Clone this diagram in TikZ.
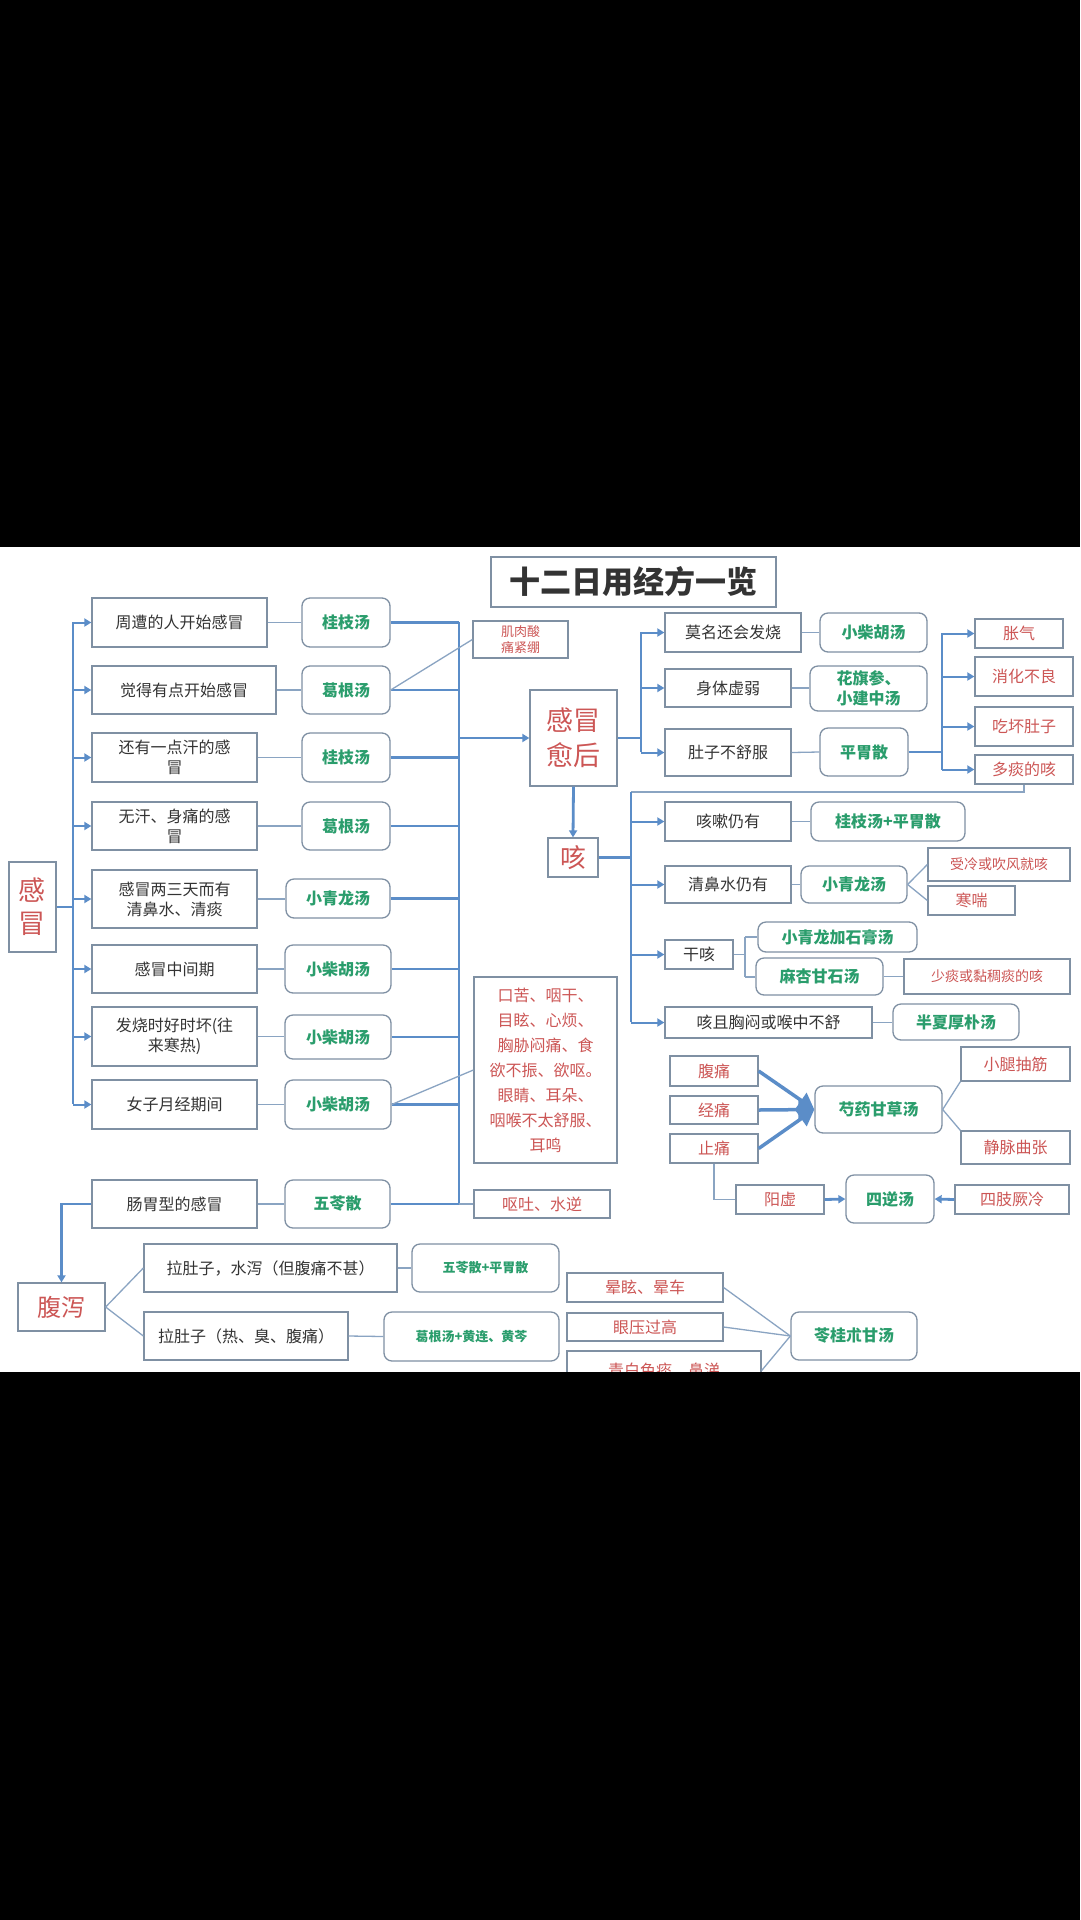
\documentclass[tikz,border=0pt]{standalone}
\usepackage{fontspec}
\newfontfamily\cjk{Noto Sans CJK SC}
\usetikzlibrary{arrows.meta}
\definecolor{bcol}{HTML}{7F90A3}
\definecolor{lcol}{HTML}{8AA4C2}
\definecolor{tcol}{HTML}{5B8DC8}
\definecolor{grn}{HTML}{2A9D6C}
\definecolor{rd}{HTML}{CC5655}
\definecolor{txt}{HTML}{333333}
\newcommand\bx[7]{\node[#6,minimum width={(#4-#2)*1pt},minimum height={(#5-#3)*1pt}] (#1) at ({(#2+#4)/2},{(#3+#5)/2}) {#7};}
\tikzset{
 plain/.style={draw=bcol,line width=1.3pt,fill=white,inner sep=1pt,align=center,text=txt,font=\cjk\fontsize{16}{20}\selectfont},
 gbox/.style={plain,rounded corners=8pt,text=grn,font=\cjk\bfseries\fontsize{16}{20}\selectfont},
 rbox/.style={plain,text=rd},
 thn/.style={draw=lcol,line width=1.3pt},
 thk/.style={draw=tcol,line width=2.8pt},
 arr/.style={-{Triangle[length=7pt,width=8pt]}},
}
\begin{document}
\begin{tikzpicture}[x=1pt,y=-1pt]
\useasboundingbox (0,0) rectangle (1080,1920);
\fill[white] (0,547) rectangle (1080,1372);
% title
\bx{title}{491}{557}{776}{607}{plain}{\cjk\bfseries\fontsize{31}{34}\selectfont 十二日用经方一览}
% left
\bx{gm}{9}{862}{56}{952}{plain,text=rd,font=\cjk\fontsize{27}{33}\selectfont}{感\\冒}
\bx{b1}{92}{598}{267}{647}{plain}{周遭的人开始感冒}
\bx{b2}{92}{666}{276}{714}{plain}{觉得有点开始感冒}
\bx{b3}{92}{733}{257}{782}{plain}{还有一点汗的感\\冒}
\bx{b4}{92}{802}{257}{850}{plain}{无汗、身痛的感\\冒}
\bx{b5}{92}{870}{257}{928}{plain}{感冒两三天而有\\清鼻水、清痰}
\bx{b6}{92}{945}{257}{993}{plain}{感冒中间期}
\bx{b7}{92}{1007}{257}{1066}{plain}{发烧时好时坏(往\\来寒热)}
\bx{b8}{92}{1080}{257}{1129}{plain}{女子月经期间}
\bx{b9}{92}{1180}{257}{1228}{plain}{肠胃型的感冒}
\bx{g1}{302}{598}{390}{647}{gbox}{桂枝汤}
\bx{g2}{302}{666}{390}{714}{gbox}{葛根汤}
\bx{g3}{302}{733}{390}{782}{gbox}{桂枝汤}
\bx{g4}{302}{802}{390}{850}{gbox}{葛根汤}
\bx{g5}{286}{879}{390}{918}{gbox}{小青龙汤}
\bx{g6}{285}{945}{391}{993}{gbox}{小柴胡汤}
\bx{g7}{285}{1015}{391}{1059}{gbox}{小柴胡汤}
\bx{g8}{285}{1080}{391}{1129}{gbox}{小柴胡汤}
\bx{g9}{285}{1180}{390}{1228}{gbox}{五苓散}
\bx{jr}{473}{621}{568}{658}{rbox,font=\cjk\fontsize{13}{16}\selectfont}{肌肉酸\\痛紧绷}
\bx{sym}{474}{977}{617}{1163}{rbox,font=\cjk\fontsize{16}{25}\selectfont}{口苦、咽干、\\目眩、心烦、\\胸胁闷痛、食\\欲不振、欲呕。\\眼睛、耳朵、\\咽喉不太舒服、\\耳鸣}
\bx{ot}{474}{1190}{610}{1218}{rbox}{呕吐、水逆}
% 腹泻
\bx{fx}{18}{1283}{105}{1331}{plain,text=rd,font=\cjk\fontsize{24}{28}\selectfont}{腹泻}
\bx{l1}{144}{1244}{397}{1292}{plain}{拉肚子，水泻（但腹痛不甚）}
\bx{l2}{144}{1312}{348}{1360}{plain}{拉肚子（热、臭、腹痛）}
\bx{w1}{412}{1244}{559}{1292}{gbox,font=\cjk\bfseries\fontsize{13}{16}\selectfont}{五苓散+平胃散}
\bx{w2}{384}{1312}{559}{1361}{gbox,font=\cjk\bfseries\fontsize{13}{16}\selectfont}{葛根汤+黄连、黄芩}
% 愈后
\bx{yh}{530}{690}{617}{786}{plain,text=rd,font=\cjk\fontsize{27}{35}\selectfont}{感冒\\愈后}
\bx{m1}{665}{613}{801}{652}{plain}{莫名还会发烧}
\bx{m2}{665}{669}{791}{707}{plain}{身体虚弱}
\bx{m3}{665}{729}{791}{776}{plain}{肚子不舒服}
\bx{n1}{820}{613}{927}{652}{gbox}{小柴胡汤}
\bx{n2}{810}{666}{927}{711}{gbox}{花旗参、\\小建中汤}
\bx{pw}{820}{728}{908}{776}{gbox}{平胃散}
\bx{r1}{975}{619}{1063}{648}{rbox}{胀气}
\bx{r2}{975}{657}{1073}{696}{rbox}{消化不良}
\bx{r3}{975}{707}{1073}{746}{rbox}{吃坏肚子}
\bx{r4}{975}{755}{1073}{784}{rbox}{多痰的咳}
% 咳
\bx{ke}{548}{838}{598}{877}{plain,text=rd,font=\cjk\fontsize{26}{30}\selectfont}{咳}
\bx{k1}{665}{802}{791}{841}{plain}{咳嗽仍有}
\bx{k2}{665}{866}{791}{903}{plain}{清鼻水仍有}
\bx{k3}{665}{940}{733}{969}{plain}{干咳}
\bx{k4}{665}{1007}{872}{1038}{plain}{咳且胸闷或喉中不舒}
\bx{q1}{811}{802}{965}{841}{gbox}{桂枝汤+平胃散}
\bx{q2}{801}{866}{907}{903}{gbox}{小青龙汤}
\bx{sl}{928}{848}{1070}{881}{rbox,font=\cjk\fontsize{14}{16}\selectfont}{受冷或吹风就咳}
\bx{hc}{928}{886}{1015}{915}{rbox}{寒喘}
\bx{xq}{758}{922}{917}{952}{gbox}{小青龙加石膏汤}
\bx{mx}{756}{958}{883}{995}{gbox}{麻杏甘石汤}
\bx{st}{904}{959}{1070}{994}{rbox,font=\cjk\fontsize{14}{16}\selectfont}{少痰或黏稠痰的咳}
\bx{bx}{893}{1004}{1019}{1040}{gbox}{半夏厚朴汤}
% 芍药
\bx{ft}{670}{1056}{758}{1086}{rbox}{腹痛}
\bx{jt}{670}{1096}{758}{1124}{rbox}{经痛}
\bx{zt}{670}{1134}{758}{1163}{rbox}{止痛}
\bx{sy}{815}{1086}{942}{1133}{gbox}{芍药甘草汤}
\bx{xt}{961}{1047}{1070}{1081}{rbox}{小腿抽筋}
\bx{jm}{961}{1131}{1070}{1164}{rbox}{静脉曲张}
\bx{yx}{736}{1185}{824}{1214}{rbox}{阳虚}
\bx{sn}{846}{1175}{934}{1223}{gbox}{四逆汤}
\bx{sz}{955}{1185}{1069}{1214}{rbox}{四肢厥冷}
\bx{yy}{567}{1273}{723}{1302}{rbox}{晕眩、晕车}
\bx{yg}{567}{1313}{723}{1341}{rbox}{眼压过高}
\bx{qb}{567}{1351}{761}{1390}{rbox}{青白色痰、鼻涕}
\bx{lg}{791}{1312}{917}{1360}{gbox}{苓桂朮甘汤}
% coordinates
\coordinate (L1) at (73,622); \coordinate (L2) at (73,1104);
\coordinate (R1) at (459,622); \coordinate (R2) at (459,1204);
\coordinate (Y1) at (641,632); \coordinate (Y2) at (641,752);
\coordinate (P1) at (942,633); \coordinate (P2) at (942,770);
\coordinate (K0) at (631,792); \coordinate (K1) at (631,1022);
\coordinate (G1) at (745,937); \coordinate (G2) at (745,977);
% left trunk
\draw[thk] (L1) -- (L2);
\draw[thk] (gm.east) -- (gm.east -| L1);
\foreach \b in {b1,b2,b3,b4,b5,b6,b7,b8} \draw[thk,arr,line width=2pt] (\b.west -| L1) -- (\b.west);
\foreach \b/\g in {b1/g1,b2/g2,b3/g3,b4/g4,b5/g5,b6/g6,b7/g7,b8/g8,b9/g9} \draw[thn] (\b.east) -- (\b.east -| \g.west);
% right trunk
\draw[thk] (R1) -- (R2);
\foreach \g in {g1,g2,g3,g4,g5,g6,g7,g8,g9} \draw[thk] (\g.east) -- (\g.east -| R1);
\draw[thk,arr] (yh.west -| R1) -- (yh.west);
\draw[thn] (g2.east) -- (jr.west);
\draw[thn] (g8.east) -- (sym.west);
\draw[thn] (R2) -- (ot.west);
% 腹泻
\draw[thk,arr] (b9.west) -| (fx.north);
\draw[thn] (fx.east) -- (l1.west);
\draw[thn] (fx.east) -- (l2.west);
\draw[thn] (l1.east) -- (w1.west);
\draw[thn] (l2.east) -- (w2.west);
% 愈后
\draw[thk] (Y1) -- (Y2);
\draw[thk] (yh.east) -- (yh.east -| Y1);
\foreach \m in {m1,m2,m3} \draw[thk,arr,line width=2pt] (\m.west -| Y1) -- (\m.west);
\draw[thn] (m1.east) -- (n1.west);
\draw[thn] (m2.east) -- (m2.east -| n2.west);
\draw[thn] (m3.east) -- (pw.west);
\draw[thk] (P1) -- (P2);
\draw[thk] (pw.east) -- (pw.east -| P1);
\foreach \r in {r1,r2,r3,r4} \draw[thk,arr,line width=2pt] (\r.west -| P1) -- (\r.west);
% 咳
\draw[thk,arr] (yh.south) -- (ke.north);
\draw[thn] (r4.south) |- (K0);
\draw[thk] (K0) -- (K1);
\draw[thk] (ke.east) -- (ke.east -| K0);
\foreach \k in {k1,k2,k3,k4} \draw[thk,arr,line width=2pt] (\k.west -| K0) -- (\k.west);
\draw[thn] (k1.east) -- (q1.west);
\draw[thn] (k2.east) -- (q2.west);
\draw[thn] (k4.east) -- (k4.east -| bx.west);
\draw[thn] (q2.east) -- (sl.west);
\draw[thn] (q2.east) -- (hc.west);
\draw[thn] (k3.east) -- (k3.east -| G1);
\draw[thn] (G1) -- (G2);
\draw[thn] (G1) -- (xq.west);
\draw[thn] (G2) -- (mx.west |- G2);
\draw[thn] (mx.east) -- (st.west);
% 芍药
\foreach \f in {ft,jt,zt} \draw[thk,line width=3.5pt,-{Triangle[length=16pt,width=18pt]}] (\f.east) -- (sy.west);
\draw[thn] (sy.east) -- (xt.south west);
\draw[thn] (sy.east) -- (jm.north west);
\draw[thn] (zt.south) |- (yx.west);
\draw[thk,arr] (yx.east) -- (sn.west);
\draw[thk,arr] (sz.west) -- (sn.east);
\foreach \a in {yy,yg,qb} \draw[thn] (\a.east) -- (lg.west);
% black bands
\fill[black] (0,0) rectangle (1080,547);
\fill[black] (0,1372) rectangle (1080,1920);
\end{tikzpicture}
\end{document}
